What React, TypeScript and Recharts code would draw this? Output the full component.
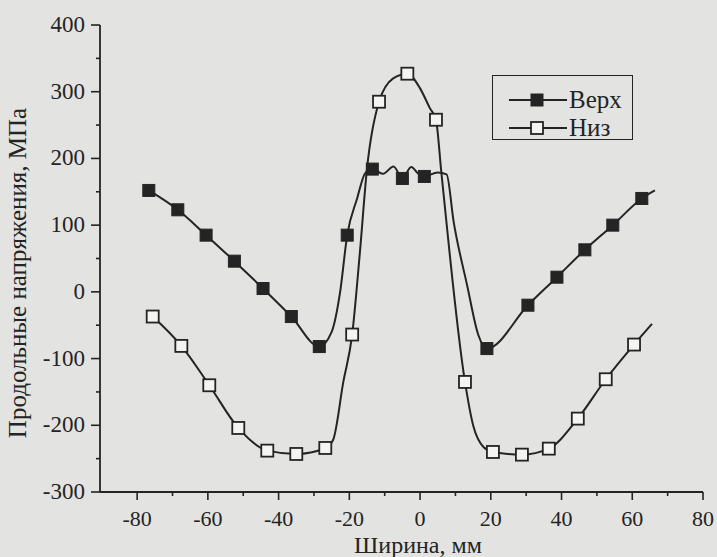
import { LineChart, Line, XAxis, YAxis, Legend } from 'recharts';

const INK = '#242424';
const PAPER = '#e3e3e1';
const FONT = '"Liberation Serif"';

// [ширина, мм ; напряжение, МПа ; 1 = точка с маркером]
const verkh: [number, number, number][] = [
  [-76.7, 152, 1], [-68.5, 123, 1], [-60.5, 85, 1], [-52.5, 46, 1],
  [-44.4, 5, 1], [-36.4, -37, 1], [-28.5, -82, 1], [-25, -60, 0],
  [-22.6, 0, 0], [-20.6, 85, 1], [-17.8, 140, 0], [-15.5, 178, 0],
  [-13.5, 184, 1], [-10.5, 177, 0], [-7.5, 188, 0], [-5, 170, 1],
  [-2.5, 187, 0], [-0.5, 177, 0], [1.2, 173, 1], [5, 179, 0],
  [7.5, 176, 0], [9.5, 105, 0], [13.3, 10, 0], [16.5, -65, 0],
  [18.9, -85, 1], [30.5, -20, 1], [38.7, 22, 1], [46.6, 63, 1],
  [54.5, 100, 1], [62.7, 140, 1], [66.4, 152, 0],
];

const niz: [number, number, number][] = [
  [-75.6, -37, 1], [-67.5, -81, 1], [-59.6, -140, 1], [-51.4, -204, 1],
  [-43.2, -238, 1], [-35, -243, 1], [-26.8, -234, 1], [-24.6, -222, 0],
  [-21.7, -135, 0], [-19.2, -64, 1], [-17, 60, 0], [-15, 185, 0],
  [-11.6, 285, 1], [-7.6, 320, 0], [-3.6, 327, 1], [0, 305, 0],
  [2.8, 275, 0], [4.5, 258, 1], [6, 180, 0], [12.7, -135, 1],
  [15, -200, 0], [18, -233, 0], [20.6, -240, 1], [28.8, -244, 1],
  [36.4, -235, 1], [44.6, -190, 1], [52.5, -131, 1], [60.5, -79, 1],
  [65.6, -48, 0],
];

const seriesNames = ['Верх', 'Низ'];

const xTicks = [-80, -70, -60, -50, -40, -30, -20, -10, 0, 10, 20, 30, 40, 50, 60, 70, 80];
const yTicks = [-300, -250, -200, -150, -100, -50, 0, 50, 100, 150, 200, 250, 300, 350, 400];

const toRows = (pts: [number, number, number][]) => pts.map(([x, y, m]) => ({ x, y, m }));
const verkhData = toRows(verkh);
const nizData = toRows(niz);

const textStyle = { fontFamily: FONT, fill: INK };

const squareDot = (filled: boolean) => (props: any) => {
  const { cx, cy, payload, index } = props;
  if (!payload || !payload.m || cx == null) return <g key={`n${index}`} />;
  return (
    <rect
      key={`d${index}`}
      x={cx - 6}
      y={cy - 6}
      width={12}
      height={12}
      fill={filled ? INK : '#f4f4f2'}
      stroke={INK}
      strokeWidth={filled ? 1 : 1.8}
    />
  );
};

const XTick = (props: any) => {
  const { x, y, payload } = props;
  const major = payload.value % 20 === 0;
  return (
    <g>
      <line x1={x} y1={y} x2={x} y2={y + (major ? 8 : 4)} stroke={INK} strokeWidth={1.6} />
      {major && (
        <text x={x} y={y + 34} textAnchor="middle" fontFamily={FONT} fontSize={22} style={textStyle}>
          {String(payload.value)}
        </text>
      )}
    </g>
  );
};

const YTick = (props: any) => {
  const { x, y, payload } = props;
  const major = payload.value % 100 === 0;
  return (
    <g>
      <line x1={x} y1={y} x2={x - (major ? 9 : 4)} y2={y} stroke={INK} strokeWidth={1.6} />
      {major && (
        <text x={x - 15} y={y + 7} textAnchor="end" fontFamily={FONT} fontSize={23} style={textStyle}>
          {String(payload.value)}
        </text>
      )}
    </g>
  );
};

const LegendBox = () => (
  <div
    style={{
      width: 141,
      height: 65,
      border: `1.5px solid ${INK}`,
      boxSizing: 'border-box',
      background: PAPER,
      position: 'relative',
    }}
  >
    {seriesNames.map((name, i) => (
      <div
        key={name}
        style={{ position: 'absolute', left: 16, top: 12 + i * 28, height: 24, display: 'flex', alignItems: 'center' }}
      >
        <svg width={58} height={24}>
          <line x1={0} y1={12} x2={58} y2={12} stroke={INK} strokeWidth={2} />
          <rect
            x={22}
            y={6}
            width={12}
            height={12}
            fill={i === 0 ? INK : '#f4f4f2'}
            stroke={INK}
            strokeWidth={i === 0 ? 1 : 1.8}
          />
        </svg>
        <span style={{ fontFamily: FONT, fontSize: 25, color: INK, lineHeight: '24px', marginLeft: 2 }}>{name}</span>
      </div>
    ))}
  </div>
);

export default function App() {
  return (
    <div style={{ position: 'absolute', left: 0, top: 0, width: 717, height: 557, background: PAPER, fontFamily: FONT }}>
      <LineChart
        width={717}
        height={557}
        margin={{ top: 25, right: 14, bottom: 0, left: 0 }}
        style={{ fontFamily: FONT }}
      >
        <XAxis
          type="number"
          dataKey="x"
          domain={[-90.5, 80]}
          ticks={xTicks}
          interval={0}
          allowDataOverflow
          height={65}
          tickLine={false}
          tickSize={0}
          tickMargin={0}
          tick={XTick}
          axisLine={{ stroke: INK, strokeWidth: 1.8 }}
          label={{
            content: () => (
              <text x={418} y={553} textAnchor="middle" fontFamily={FONT} fontSize={24} style={textStyle}>
                Ширина, мм
              </text>
            ),
          }}
        />
        <YAxis
          type="number"
          domain={[-300, 400]}
          ticks={yTicks}
          interval={0}
          allowDataOverflow
          width={100}
          tickLine={false}
          tickSize={0}
          tickMargin={0}
          tick={YTick}
          axisLine={{ stroke: INK, strokeWidth: 1.8 }}
          label={{
            content: () => (
              <text
                x={26}
                y={273}
                transform="rotate(-90 26 273)"
                textAnchor="middle"
                fontFamily={FONT}
                fontSize={25}
                style={textStyle}
              >
                Продольные напряжения, МПа
              </text>
            ),
          }}
        />
        <Legend
          layout="horizontal"
          verticalAlign="middle"
          align="center"
          content={<LegendBox />}
          wrapperStyle={{ left: 492, top: 75, width: 141, height: 65 }}
        />
        <Line
          data={verkhData}
          dataKey="y"
          name={seriesNames[0]}
          type="monotone"
          stroke={INK}
          strokeWidth={2}
          dot={squareDot(true)}
          activeDot={false}
          isAnimationActive={false}
        />
        <Line
          data={nizData}
          dataKey="y"
          name={seriesNames[1]}
          type="monotone"
          stroke={INK}
          strokeWidth={2}
          dot={squareDot(false)}
          activeDot={false}
          isAnimationActive={false}
        />
      </LineChart>
    </div>
  );
}
